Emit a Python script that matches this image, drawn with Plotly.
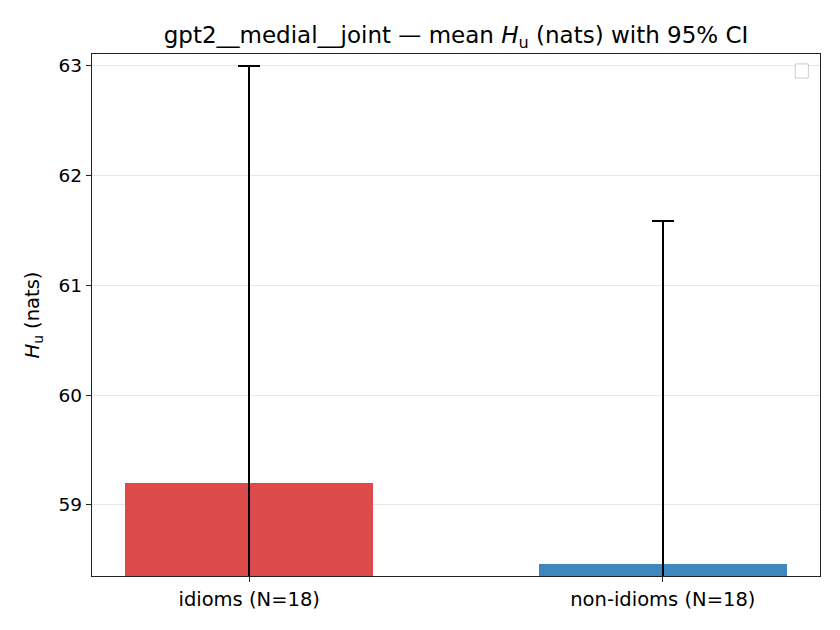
import plotly.graph_objects as go

# gpt2__medial__joint: mean H_u per group with 95% CI half-widths
groups = ["idioms (N=18)", "non-idioms (N=18)"]
mean_hu = [59.20, 58.46]
ci_half = [3.80, 3.13]
bar_colors = ["#dc4a4a", "#3f88bf"]

fig = go.Figure()

fig.add_trace(go.Bar(
    x=[0, 1],
    y=mean_hu,
    width=0.6,
    marker=dict(color=bar_colors, line=dict(width=0)),
    error_y=dict(type="data", array=ci_half, visible=True,
                 color="black", thickness=2, width=11),
    showlegend=False,
))

# empty legend box (matplotlib draws one when no labels exist)
fig.add_shape(type="rect", xref="paper", yref="paper",
              x0=0.966, x1=0.984, y0=0.954, y1=0.981,
              line=dict(color="#cccccc", width=1), fillcolor="white")

fig.update_layout(
    width=840, height=630,
    margin=dict(l=84, r=28, t=46, b=62),
    paper_bgcolor="white",
    plot_bgcolor="white",
    font=dict(family="DejaVu Sans", size=19, color="black"),
    title=dict(
        text="gpt2__medial__joint — mean <i>H</i><sub>u</sub> (nats) with 95% CI",
        xref="paper", x=0.5, xanchor="center", y=0.957, yanchor="middle",
        font=dict(size=23),
    ),
    bargap=0,
)

fig.update_xaxes(
    range=[-0.38, 1.38],
    tickvals=[0, 1], ticktext=groups,
    ticks="outside", ticklen=5, tickcolor="#222",
    tickfont=dict(size=19.5),
    showline=True, linecolor="#222", linewidth=1.3, mirror=True,
    showgrid=False, zeroline=False,
)
fig.update_yaxes(
    range=[58.353, 63.109],
    tickvals=[59, 60, 61, 62, 63],
    ticks="outside", ticklen=5, tickcolor="#222",
    tickfont=dict(size=18.5),
    showline=True, linecolor="#222", linewidth=1.3, mirror=True,
    showgrid=True, gridcolor="#e6e6e6", gridwidth=1, zeroline=False,
    title=dict(text="<i>H</i><sub>u</sub> (nats)", standoff=13,
               font=dict(size=19.5)),
)

fig.write_html("out.html")
